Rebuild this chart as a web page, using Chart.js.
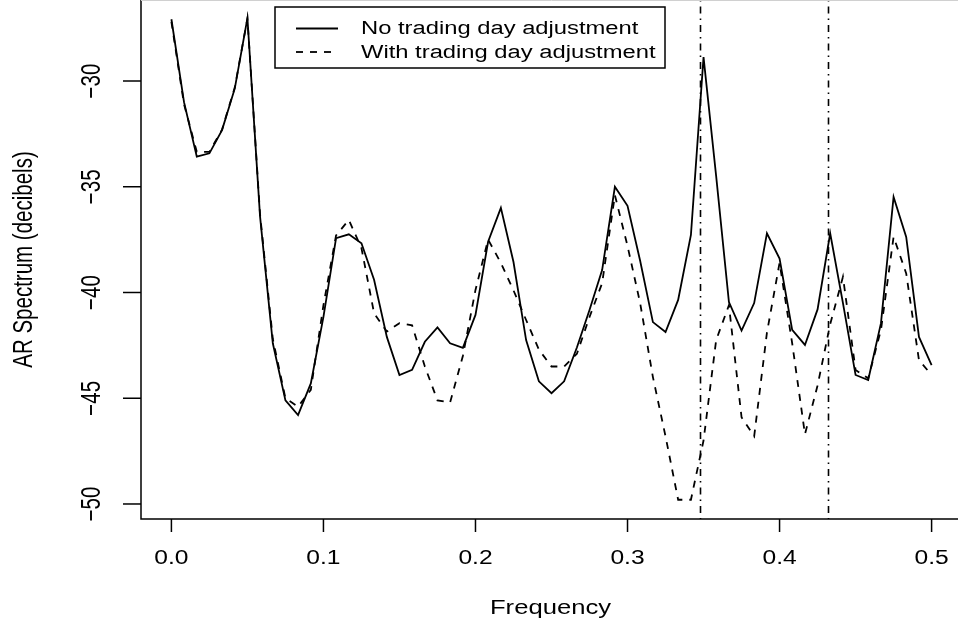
<!DOCTYPE html>
<html>
<head>
<meta charset="utf-8">
<script src="https://cdn.jsdelivr.net/npm/chart.js@4.4.1/dist/chart.umd.min.js"></script>
<style>
html, body { margin:0; padding:0; background:#fff; overflow:hidden; }
canvas { display:block; }
</style>
</head>
<body>
<canvas id="spec" width="962" height="624"></canvas>
<script>
// frequencies (cycles per month)
var freq = [0, 0.0083, 0.0167, 0.025, 0.0333, 0.0417, 0.05, 0.0583, 0.0667, 0.075,
  0.0833, 0.0917, 0.1, 0.1083, 0.1167, 0.125, 0.1333, 0.1417, 0.15, 0.1583,
  0.1667, 0.175, 0.1833, 0.1917, 0.2, 0.2083, 0.2167, 0.225, 0.2333, 0.2417,
  0.25, 0.2583, 0.2667, 0.275, 0.2833, 0.2917, 0.3, 0.3083, 0.3167, 0.325,
  0.3333, 0.3417, 0.35, 0.3583, 0.3667, 0.375, 0.3833, 0.3917, 0.4, 0.4083,
  0.4167, 0.425, 0.4333, 0.4417, 0.45, 0.4583, 0.4667, 0.475, 0.4833, 0.4917, 0.5];

// AR spectrum in decibels
var noAdj = [-27.08, -31.0, -33.58, -33.42, -32.32, -30.35, -27.03, -36.4, -42.4, -45.1,
  -45.8, -44.3, -41.15, -37.43, -37.25, -37.67, -39.4, -42.1, -43.9, -43.66,
  -42.33, -41.65, -42.4, -42.62, -41.06, -37.6, -36.0, -38.56, -42.25, -44.2,
  -44.76, -44.2, -42.6, -40.83, -38.94, -35.0, -35.9, -38.5, -41.4, -41.87,
  -40.35, -37.28, -28.87, -34.5, -40.45, -41.8, -40.5, -37.2, -38.4, -41.77,
  -42.48, -40.8, -37.2, -40.5, -43.9, -44.14, -41.45, -35.48, -37.37, -42.1, -43.43];

var withAdj = [-27.2, -31.1, -33.35, -33.35, -32.3, -30.3, -27.05, -36.3, -42.2, -45.0,
  -45.4, -44.6, -40.6, -37.3, -36.57, -37.9, -40.98, -41.85, -41.45, -41.55,
  -43.5, -45.1, -45.2, -43.0, -39.88, -37.5, -38.6, -39.9, -41.3, -42.7,
  -43.5, -43.5, -42.9, -41.16, -39.56, -35.4, -37.8, -40.5, -44.0, -46.8,
  -49.8, -49.8, -47.0, -42.25, -40.6, -45.9, -46.8, -41.9, -38.6, -42.4,
  -46.7, -44.4, -41.5, -39.26, -43.66, -44.06, -41.77, -37.37, -39.1, -43.2, -43.9];

// trading day frequencies (dot-dash lines)
var tdFreq = [0.348, 0.432];

var xTicks = [0, 0.1, 0.2, 0.3, 0.4, 0.5];
var xTickLabels = ["0.0", "0.1", "0.2", "0.3", "0.4", "0.5"];
var yTicks = [-50, -45, -40, -35, -30];
var yTickLabels = ["\u221250", "\u221245", "\u221240", "\u221235", "\u221230"];

var seriesNames = ["No trading day adjustment", "With trading day adjustment"];

var FONT = '"Liberation Sans", Arial, Helvetica, sans-serif';

// text with a sideways stretch hs (the R picture was widened)
function rText(ctx, txt, x, y, size, hs, rotated, align) {
  ctx.save();
  ctx.translate(x, y);
  if (rotated) {
    ctx.rotate(-Math.PI / 2);
    ctx.scale(1, hs);
  } else {
    ctx.scale(hs, 1);
  }
  ctx.font = size + "px " + FONT;
  ctx.fillStyle = "#000";
  ctx.textAlign = align;
  ctx.textBaseline = "alphabetic";
  ctx.fillText(txt, 0, 0);
  ctx.restore();
}

var rPlot = {
  id: "rPlot",
  beforeDatasetsDraw: function(chart) {
    var ctx = chart.ctx, a = chart.chartArea, xs = chart.scales.x;
    ctx.save();
    ctx.strokeStyle = "#000";
    ctx.lineWidth = 1.6;
    ctx.setLineDash([1.5, 5, 7, 5]);
    tdFreq.forEach(function(f) {
      var px = Math.round(xs.getPixelForValue(f)) + 0.5;
      ctx.beginPath();
      ctx.moveTo(px, a.top);
      ctx.lineTo(px, a.bottom);
      ctx.stroke();
    });
    ctx.restore();
  },
  afterDraw: function(chart) {
    var ctx = chart.ctx, a = chart.chartArea;
    var xs = chart.scales.x, ys = chart.scales.y;
    ctx.save();
    ctx.strokeStyle = "#000";
    ctx.lineWidth = 1.5;
    // box (top edge is cut off by the picture)
    ctx.beginPath();
    ctx.moveTo(a.left, a.top);
    ctx.lineTo(a.left, a.bottom);
    ctx.lineTo(a.right, a.bottom);
    ctx.stroke();
    ctx.strokeStyle = "#d0d0d0";
    ctx.lineWidth = 1;
    ctx.beginPath();
    ctx.moveTo(a.left, 0.5);
    ctx.lineTo(a.right, 0.5);
    ctx.stroke();

    // x axis ticks + labels
    ctx.strokeStyle = "#000";
    ctx.lineWidth = 1.5;
    xTicks.forEach(function(v, i) {
      var px = xs.getPixelForValue(v);
      ctx.beginPath();
      ctx.moveTo(px, a.bottom);
      ctx.lineTo(px, a.bottom + 13);
      ctx.stroke();
      rText(ctx, xTickLabels[i], px, 564, 20.5, 1.2, false, "center");
    });
    // y axis ticks + labels, turned like R's default
    yTicks.forEach(function(v, i) {
      var py = ys.getPixelForValue(v);
      ctx.beginPath();
      ctx.moveTo(a.left - 18, py);
      ctx.lineTo(a.left, py);
      ctx.stroke();
      rText(ctx, yTickLabels[i], 100, py, 20.5, 1.32, true, "center");
    });
    rText(ctx, "Frequency", (a.left + a.right) / 2 - 1, 614, 20.5, 1.25, false, "center");
    rText(ctx, "AR Spectrum (decibels)", 32, (a.top + a.bottom) / 2, 20.5, 1.32, true, "center");

    // legend
    var bx = 275, by = 7, bw = 390, bh = 61;
    ctx.fillStyle = "#fff";
    ctx.fillRect(bx, by, bw, bh);
    ctx.lineWidth = 1.5;
    ctx.strokeRect(bx, by, bw, bh);
    chart.data.datasets.forEach(function(ds, i) {
      var ly = 28.5 + i * 23.5;
      ctx.save();
      ctx.lineWidth = ds.borderWidth;
      ctx.setLineDash(ds.borderDash || []);
      ctx.beginPath();
      ctx.moveTo(296, ly);
      ctx.lineTo(338, ly);
      ctx.stroke();
      ctx.restore();
      rText(ctx, ds.label, 361, ly + 5.5, 18, 1.32, false, "left");
    });
    ctx.restore();
  }
};

new Chart(document.getElementById("spec"), {
  type: "line",
  data: {
    labels: freq,
    datasets: [
      { label: seriesNames[0], data: noAdj, borderColor: "#000", borderWidth: 1.8,
        pointRadius: 0, tension: 0, fill: false },
      { label: seriesNames[1], data: withAdj, borderColor: "#000", borderWidth: 1.8,
        borderDash: [7, 7], pointRadius: 0, tension: 0, fill: false }
    ]
  },
  options: {
    responsive: false,
    animation: false,
    devicePixelRatio: 1,
    layout: { padding: 0 },
    plugins: { legend: { display: false }, tooltip: { enabled: false } },
    scales: {
      x: {
        type: "linear", min: -0.02, max: 0.52,
        grid: { display: false }, border: { display: false },
        ticks: { display: false },
        afterBuildTicks: function(s) { s.ticks = xTicks.map(function(v) { return { value: v }; }); },
        afterFit: function(s) { s.height = 105; }
      },
      y: {
        type: "linear", min: -50.71, max: -26.17,
        grid: { display: false }, border: { display: false },
        ticks: { display: false },
        afterBuildTicks: function(s) { s.ticks = yTicks.map(function(v) { return { value: v }; }); },
        afterFit: function(s) { s.width = 141; }
      }
    }
  },
  plugins: [rPlot]
});
</script>
</body>
</html>
